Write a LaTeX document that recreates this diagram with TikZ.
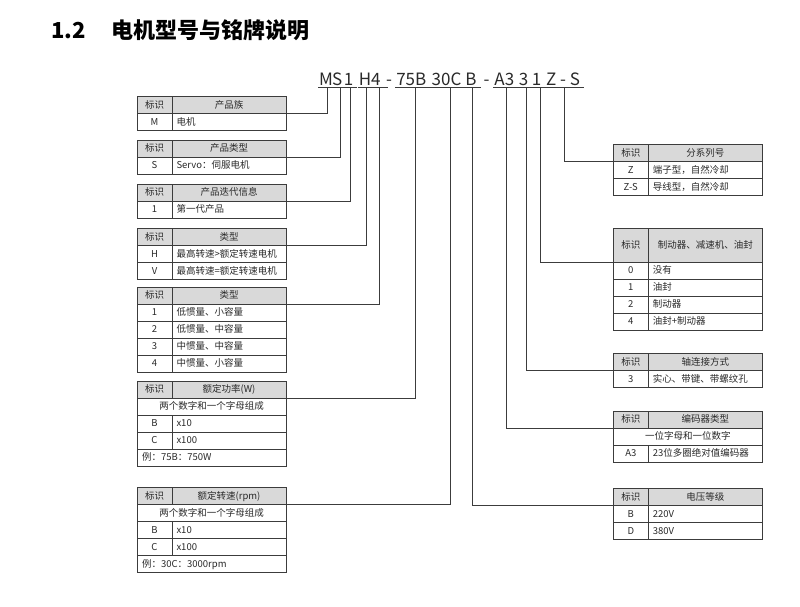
\documentclass[tikz,border=0pt]{standalone}
\usepackage{fontspec}
\setmainfont{Noto Sans CJK SC}
\definecolor{lcol}{HTML}{3C3C3C}
\definecolor{hfill}{HTML}{D9D9D9}
\definecolor{tcol}{HTML}{2A2A2A}
\newcommand\hdrow[4]{%
  \node[idc,hd] (#1i) at (#2) {#3};
  \node[dsc,hd,align=center] (#1d) at (#1i.north east) {#4};}
\newcommand\cellrow[4]{%
  \node[idc] (#1i) at (#2) {#3};
  \node[dsc] (#1d) at (#1i.north east) {#4};}
\tikzset{
  cell/.style={draw=lcol, line width=0.7pt, inner sep=0pt, outer sep=0pt,
    minimum height=17pt, anchor=north west, text=tcol,
    font=\fontsize{9.5}{11}\selectfont, text height=7.6pt, text depth=1.2pt},
  idc/.style={cell, minimum width=35pt, align=center},
  dsc/.style={cell, text width=105pt, inner xsep=4.5pt, align=left},
  wide/.style={cell, text width=139pt, inner xsep=5pt},
  hd/.style={fill=hfill},
  code/.style={font=\fontsize{17}{20}\selectfont, text=tcol, inner sep=0pt,
    outer sep=0pt, anchor=base, text depth=0pt},
  ul/.style={draw=lcol, line width=0.7pt},
  conn/.style={draw=lcol, line width=0.8pt},
}
\begin{document}
\begin{tikzpicture}[x=1pt,y=-1pt]
\useasboundingbox[fill=white] (0,0) rectangle (800,606);
% title
\node[anchor=base west, inner sep=0, font=\fontsize{22}{24}\selectfont\bfseries] (title1) at (51,38.5) {1.2};
\node[anchor=base west, inner sep=0, font=\fontsize{22}{24}\selectfont\bfseries] (title2) at (111,38.5) {电机型号与铭牌说明};
% code string
\node[code] (gM) at (326,85) {M};
\node[code] (gS) at (337.3,85) {S};
\node[code] (g1) at (348.5,85) {1};
\node[code] (gH) at (365,85) {H};
\node[code] (g4) at (375.8,85) {4};
\node[code] (gd1) at (389,85) {-};
\node[code] (g75) at (411.3,85) {75B};
\node[code] (g30) at (446.5,85) {30C};
\node[code] (gB) at (471,85) {B};
\node[code] (gd2) at (486.5,85) {-};
\node[code] (gA3) at (504.3,85) {A3};
\node[code] (g3) at (523.5,85) {3};
\node[code] (g1b) at (536.5,85) {1};
\node[code] (gZS) at (563,85) {Z - S};
\foreach \g/\o in {gM/1.5,gS/3,g1/1.5,gH/1,g4/3.3,g75/4.4,g30/3.8,gB/1.5,gA3/1.8,g3/2.5,g1b/4,gZS/1.5}{
  \draw[ul] ([yshift=-2.4pt,xshift=-1pt]\g.south west) -- ([yshift=-2.4pt,xshift=\o*2pt+1pt]\g.south east);
}
% ---------- left tables ----------
% T1
\hdrow{ta}{137,96.5}{标识}{产品族}
\cellrow{tb}{tai.south west}{M}{电机}
% T2
\hdrow{tc}{137,140}{标识}{产品类型}
\cellrow{td}{tci.south west}{S}{Servo：伺服电机}
% T3
\hdrow{te}{137,184}{标识}{产品迭代信息}
\cellrow{tf}{tei.south west}{1}{第一代产品}
% T4
\hdrow{tg}{137,228.5}{标识}{类型}
\cellrow{th}{tgi.south west}{H}{最高转速>额定转速电机}
\cellrow{tj}{thi.south west}{V}{最高转速=额定转速电机}
% T5
\hdrow{tk}{137,287}{标识}{类型}
\cellrow{tl}{tki.south west}{1}{低惯量、小容量}
\cellrow{tm}{tli.south west}{2}{低惯量、中容量}
\cellrow{tn}{tmi.south west}{3}{中惯量、中容量}
\cellrow{to}{tni.south west}{4}{中惯量、小容量}
% T6
\hdrow{tp}{137,381}{标识}{额定功率(W)}
\node[wide, align=center] (tpw) at (tpi.south west) {两个数字和一个字母组成};
\cellrow{tq}{tpw.south west}{B}{x10}
\cellrow{tr}{tqi.south west}{C}{x100}
\node[wide, align=left] (tpf) at (tri.south west) {例：75B：750W};
% T7
\hdrow{ts}{137,487.5}{标识}{额定转速(rpm)}
\node[wide, align=center] (tsw) at (tsi.south west) {两个数字和一个字母组成};
\cellrow{tt}{tsw.south west}{B}{x10}
\cellrow{tu}{tti.south west}{C}{x100}
\node[wide, align=left] (tsf) at (tui.south west) {例：30C：3000rpm};
% ---------- right tables ----------
% R1
\hdrow{ra}{613.3,144.5}{标识}{分系列号}
\cellrow{rb}{rai.south west}{Z}{端子型，自然冷却}
\cellrow{rc}{rbi.south west}{Z-S}{导线型，自然冷却}
% R2
\node[idc,hd,minimum height=34pt] (rdi) at (613.3,228) {标识};
\node[dsc,hd,align=center,minimum height=34pt] (rdd) at (rdi.north east) {制动器、减速机、油封};
\cellrow{re}{rdi.south west}{0}{没有}
\cellrow{rf}{rei.south west}{1}{油封}
\cellrow{rg}{rfi.south west}{2}{制动器}
\cellrow{rh}{rgi.south west}{4}{油封+制动器}
% R3
\hdrow{rj}{613.3,353.5}{标识}{轴连接方式}
\cellrow{rk}{rji.south west}{3}{实心、带键、带螺纹孔}
% R4
\hdrow{rl}{613.3,411}{标识}{编码器类型}
\node[wide, align=center] (rlw) at (rli.south west) {一位字母和一位数字};
\cellrow{rm}{rlw.south west}{A3}{23位多圈绝对值编码器}
% R5
\hdrow{rn}{613.3,488.5}{标识}{电压等级}
\cellrow{ro}{rni.south west}{B}{220V}
\cellrow{rp}{roi.south west}{D}{380V}
% ---------- connectors ----------
\draw[conn] ([yshift=-2.4pt,xshift=1.5pt]gM.south) |- (tad.south east);
\draw[conn] ([yshift=-2.4pt,xshift=3pt]gS.south) |- (tcd.south east);
\draw[conn] ([yshift=-2.4pt,xshift=1.5pt]g1.south) |- (ted.south east);
\draw[conn] ([yshift=-2.4pt,xshift=1pt]gH.south) |- (tgd.south east);
\draw[conn] ([yshift=-2.4pt,xshift=3.3pt]g4.south) |- (tkd.south east);
\draw[conn] ([yshift=-2.4pt,xshift=4.4pt]g75.south) |- (tpd.south east);
\draw[conn] ([yshift=-2.4pt,xshift=3.8pt]g30.south) |- (tsd.south east);
\draw[conn] ([yshift=-2.4pt,xshift=1.5pt]gB.south) |- (rni.south west);
\draw[conn] ([yshift=-2.4pt,xshift=1.8pt]gA3.south) |- (rli.south west);
\draw[conn] ([yshift=-2.4pt,xshift=2.5pt]g3.south) |- (rji.south west);
\draw[conn] ([yshift=-2.4pt,xshift=4pt]g1b.south) |- (rdi.south west);
\draw[conn] ([yshift=-2.4pt,xshift=1.5pt]gZS.south) |- (rai.south west);
\end{tikzpicture}
\end{document}
